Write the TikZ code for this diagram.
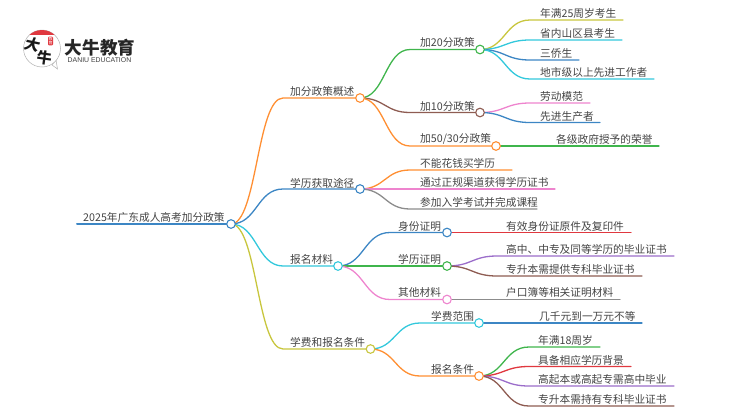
\documentclass[tikz,border=0pt]{standalone}
\usepackage{fontspec}
\usetikzlibrary{calc,backgrounds}
\setmainfont{Noto Sans CJK SC}
\newfontfamily\latinfont{Liberation Sans}
\definecolor{cOrange}{HTML}{FF8F33}
\definecolor{cBlue}{HTML}{3C86C4}
\definecolor{cCyan}{HTML}{33C8DC}
\definecolor{cOlive}{HTML}{C8C63E}
\definecolor{cGreen}{HTML}{3FB54C}
\definecolor{cBrown}{HTML}{8E5C52}
\definecolor{cPink}{HTML}{EE84CE}
\definecolor{cRed}{HTML}{E0383F}
\definecolor{cPurple}{HTML}{9B6DCA}
\definecolor{cGray}{HTML}{8C8C8C}
\definecolor{cText}{HTML}{444444}
\tikzset{
  hub/.style={circle,draw=#1,fill=white,line width=1.1pt,minimum size=8.6pt,inner sep=0pt},
  lbl/.style={anchor=west,inner sep=0pt,text=cText,font=\fontsize{10.7}{12}\selectfont},
  link/.style={draw=#1,line width=1.3pt,line cap=round},
  sbend/.style={to path={let \p1=(\tikztostart),\p2=(\tikztotarget) in
    .. controls ({(\x1+\x2)/2},\y1) and ({(\x1+\x2)/2},\y2) .. (\tikztotarget)}}
}
\begin{document}
\begin{tikzpicture}[x=1pt,y=-1pt]
    \useasboundingbox (0,0) rectangle (750,410);

    % Logo
    \fill[white,draw=black!30,line width=0.5pt] (52,65) -- (57.5,69) -- (56,60) -- cycle;
    \node[circle,draw=black!30,fill=white,line width=0.5pt,minimum size=37pt,inner sep=0pt] (logo) at (42,48.5) {};
    \begin{scope}
      \clip (42,48.5) circle (18.5);
      \fill[cRed] (20,28) rectangle (64,35);
    \end{scope}
    \node[inner sep=0pt,rotate=-12,xslant=0.15,font=\fontsize{15}{15}\selectfont\bfseries,text=black!90] (logoa) at (32.5,45) {大};
    \node[inner sep=0pt,rotate=-8,font=\fontsize{15}{15}\selectfont\bfseries,text=black!90] (logob) at (45,58) {牛};
    \node[fill=cRed,rounded corners=1pt,inner sep=0.5pt,text=white,font=\fontsize{4}{4.2}\selectfont,align=center] (seal) at (50.5,41) {教\\育};
    \node[inner sep=0pt,text=black!85,font=\fontsize{17.6}{18}\selectfont\bfseries] (brand) at (100,47.5) {大牛教育};
    \node[inner sep=0pt,text=black!75,font=\latinfont\fontsize{6.9}{8}\selectfont] (brandsub) at (99.5,60.5) {DANIU EDUCATION};

    % Round nodes
    \node[hub=cBlue] (root) at (231,224) {};
    \node[hub=cOrange] (gaishu) at (360,98) {};
    \node[hub=cBlue] (tujing) at (360,189) {};
    \node[hub=cCyan] (cailiao) at (338,266) {};
    \node[hub=cOlive] (tiaojian) at (370.5,349) {};
    \node[hub=cGreen] (jia20) at (480,49.5) {};
    \node[hub=cBrown] (jia10) at (480,112.5) {};
    \node[hub=cOrange] (jia50) at (496,146) {};
    \node[hub=cBlue] (shenfen) at (447,232.5) {};
    \node[hub=cGreen] (xueli) at (447,266) {};
    \node[hub=cPink] (qita) at (447,299.5) {};
    \node[hub=cCyan] (feiyong) at (479,323) {};
    \node[hub=cOrange] (baoming) at (479,376) {};

    \begin{scope}[on background layer]
    % Main branches
    \coordinate (rootend) at (77,224);
    \draw[link=cBlue,line width=2pt] (root.center) -- (rootend);
    \coordinate (a1) at (283,98);
    \coordinate (a2) at (283,189);
    \coordinate (a3) at (283,266);
    \coordinate (a4) at (283,349);
    \draw[link=cOrange] (root.center) to[sbend] (a1) -- (gaishu.center);
    \draw[link=cBlue] (root.center) to[sbend] (a2) -- (tujing.center);
    \draw[link=cCyan] (root.center) to[sbend] (a3) -- (cailiao.center);
    \draw[link=cOlive] (root.center) to[sbend] (a4) -- (tiaojian.center);

    % Second level
    \coordinate (b1) at (410,49.5);
    \coordinate (b2) at (410,112.5);
    \coordinate (b3) at (410,146);
    \draw[link=cGreen] (gaishu.center) to[sbend] (b1) -- (jia20.center);
    \draw[link=cBrown] (gaishu.center) to[sbend] (b2) -- (jia10.center);
    \draw[link=cOrange] (gaishu.center) to[sbend] (b3) -- (jia50.center);
    \coordinate (c1) at (390,232.5);
    \coordinate (c3) at (390,299.5);
    \draw[link=cBlue] (cailiao.center) to[sbend] (c1) -- (shenfen.center);
    \draw[link=cGreen] (cailiao.center) -- (xueli.center);
    \draw[link=cPink] (cailiao.center) to[sbend] (c3) -- (qita.center);
    \coordinate (d1) at (420,323);
    \coordinate (d2) at (420,376);
    \draw[link=cCyan] (tiaojian.center) to[sbend] (d1) -- (feiyong.center);
    \draw[link=cOrange] (tiaojian.center) to[sbend] (d2) -- (baoming.center);

    % Leaves of the 20 point group
    \coordinate (e1) at (530,20);
    \coordinate (e1end) at (623,20);
    \coordinate (e2) at (530,40);
    \coordinate (e2end) at (622,40);
    \coordinate (e3) at (530,60);
    \coordinate (e3end) at (579,60);
    \coordinate (e4) at (530,79);
    \coordinate (e4end) at (654,79);
    \draw[link=cOlive] (jia20.center) to[sbend] (e1) -- (e1end);
    \draw[link=cCyan] (jia20.center) to[sbend] (e2) -- (e2end);
    \draw[link=cBlue] (jia20.center) to[sbend] (e3) -- (e3end);
    \draw[link=cCyan] (jia20.center) to[sbend] (e4) -- (e4end);

    % Leaves of the 10 and 50/30 point groups
    \coordinate (f1) at (530,103);
    \coordinate (f1end) at (590,103);
    \coordinate (f2) at (530,122.5);
    \coordinate (f2end) at (600,122.5);
    \coordinate (g1end) at (659,146);
    \draw[link=cPink] (jia10.center) to[sbend] (f1) -- (f1end);
    \draw[link=cBlue] (jia10.center) to[sbend] (f2) -- (f2end);
    \draw[link=cGreen] (jia50.center) -- (g1end);

    % Leaves of the second branch
    \coordinate (h1) at (410,170);
    \coordinate (h1end) at (512,170);
    \coordinate (h2end) at (555,189);
    \coordinate (h3) at (410,209);
    \coordinate (h3end) at (537,209);
    \draw[link=cOrange] (tujing.center) to[sbend] (h1) -- (h1end);
    \draw[link=cPink] (tujing.center) -- (h2end);
    \draw[link=cGray] (tujing.center) to[sbend] (h3) -- (h3end);

    % Leaves of the third branch
    \coordinate (i1end) at (631,232.5);
    \coordinate (j1) at (497,256);
    \coordinate (j1end) at (674,256);
    \coordinate (j2) at (497,276);
    \coordinate (j2end) at (642,276);
    \coordinate (k1end) at (620,299.5);
    \draw[link=cRed] (shenfen.center) -- (i1end);
    \draw[link=cPurple] (xueli.center) to[sbend] (j1) -- (j1end);
    \draw[link=cBrown] (xueli.center) to[sbend] (j2) -- (j2end);
    \draw[link=cGray] (qita.center) -- (k1end);

    % Leaves of the fourth branch
    \coordinate (l1end) at (642,323);
    \coordinate (m1) at (529,347);
    \coordinate (m1end) at (600,347);
    \coordinate (m2) at (529,366.5);
    \coordinate (m2end) at (631,366.5);
    \coordinate (m3) at (529,386);
    \coordinate (m3end) at (674,386);
    \coordinate (m4) at (529,406);
    \coordinate (m4end) at (674,406);
    \draw[link=cBlue] (feiyong.center) -- (l1end);
    \draw[link=cGreen] (baoming.center) to[sbend] (m1) -- (m1end);
    \draw[link=cRed] (baoming.center) to[sbend] (m2) -- (m2end);
    \draw[link=cPurple] (baoming.center) to[sbend] (m3) -- (m3end);
    \draw[link=cBrown] (baoming.center) to[sbend] (m4) -- (m4end);
    \end{scope}

    % Labels
    \node[lbl] (troot) at (83,217) {2025年广东成人高考加分政策};
    \node[lbl] (tgaishu) at (290,91) {加分政策概述};
    \node[lbl] (ttujing) at (290,183) {学历获取途径};
    \node[lbl] (tcailiao) at (290,259) {报名材料};
    \node[lbl] (ttiaojian) at (290,342) {学费和报名条件};
    \node[lbl] (tjia20) at (420,42.5) {加20分政策};
    \node[lbl] (tjia10) at (420,106) {加10分政策};
    \node[lbl] (tjia50) at (420,139) {加50/30分政策};
    \node[lbl] (te1) at (540,13) {年满25周岁考生};
    \node[lbl] (te2) at (540,33) {省内山区县考生};
    \node[lbl] (te3) at (540,53) {三侨生};
    \node[lbl] (te4) at (540,72) {地市级以上先进工作者};
    \node[lbl] (tf1) at (540,96.5) {劳动模范};
    \node[lbl] (tf2) at (540,116) {先进生产者};
    \node[lbl] (tg1) at (556,139.5) {各级政府授予的荣誉};
    \node[lbl] (th1) at (420,163) {不能花钱买学历};
    \node[lbl] (th2) at (420,182.5) {通过正规渠道获得学历证书};
    \node[lbl] (th3) at (420,202) {参加入学考试并完成课程};
    \node[lbl] (tshenfen) at (398,226) {身份证明};
    \node[lbl] (txueli) at (398,259) {学历证明};
    \node[lbl] (tqita) at (398,292.5) {其他材料};
    \node[lbl] (ti1) at (506,226) {有效身份证原件及复印件};
    \node[lbl] (tj1) at (506,249) {高中、中专及同等学历的毕业证书};
    \node[lbl] (tj2) at (506,269) {专升本需提供专科毕业证书};
    \node[lbl] (tk1) at (506,292.5) {户口簿等相关证明材料};
    \node[lbl] (tfeiyong) at (431,316) {学费范围};
    \node[lbl] (tbaoming) at (431,369.5) {报名条件};
    \node[lbl] (tl1) at (539,316) {几千元到一万元不等};
    \node[lbl] (tm1) at (538,340) {年满18周岁};
    \node[lbl] (tm2) at (538,360) {具备相应学历背景};
    \node[lbl] (tm3) at (538,379.5) {高起本或高起专需高中毕业};
    \node[lbl] (tm4) at (538,399.5) {专升本需持有专科毕业证书};
\end{tikzpicture}
\end{document}
